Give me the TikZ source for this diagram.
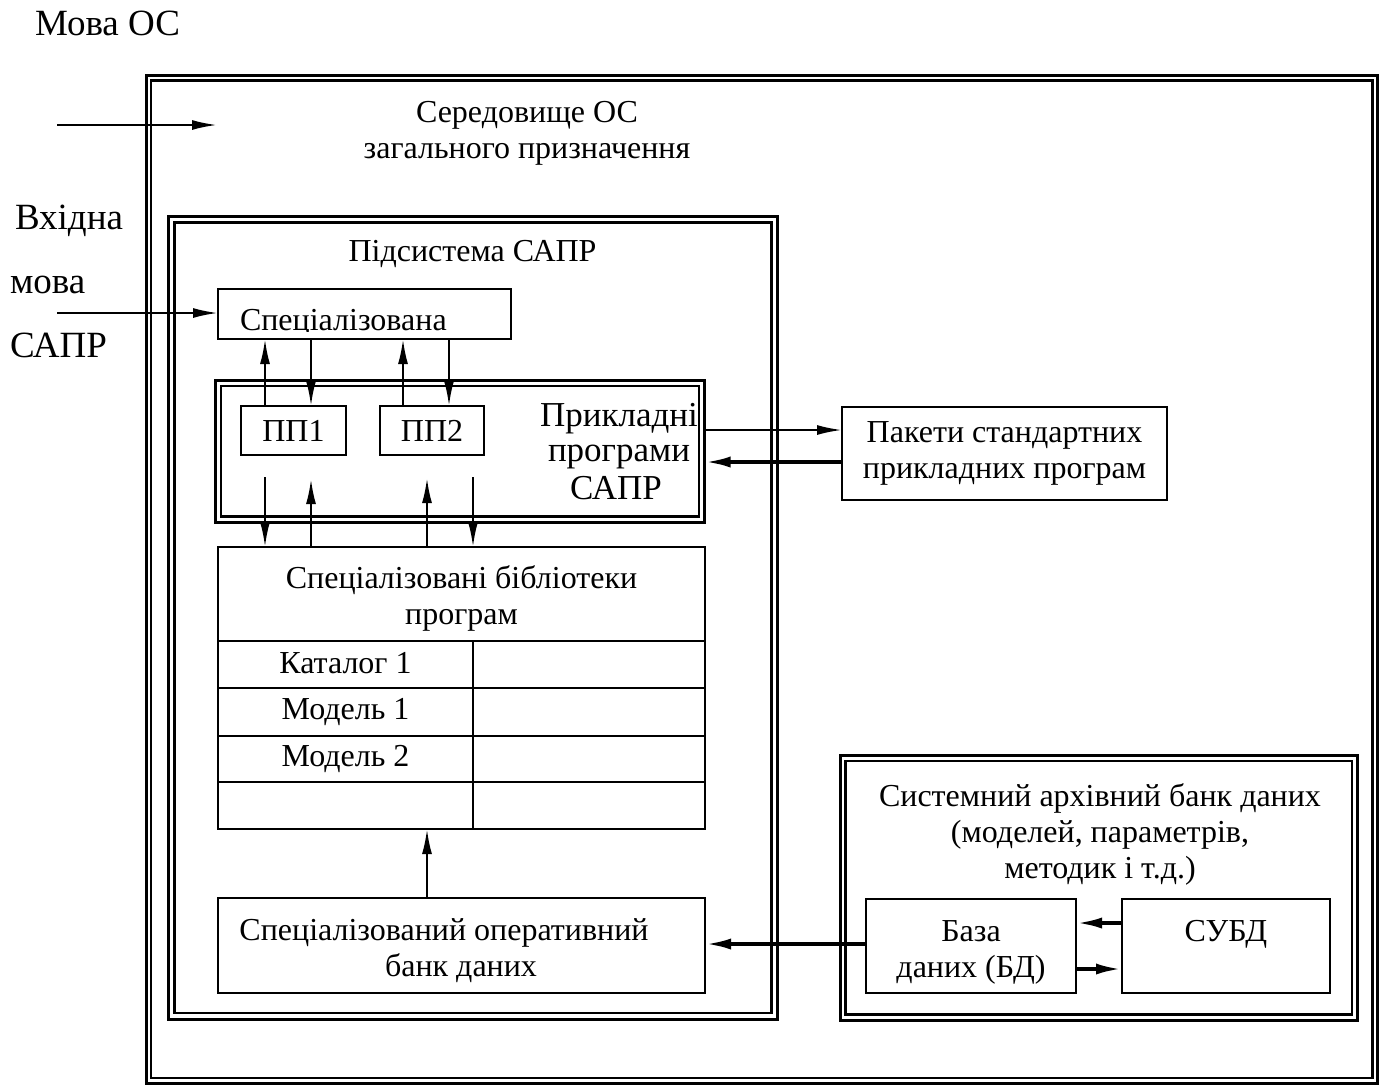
\documentclass[tikz,border=0pt]{standalone}
\usepackage{fontspec}
\setmainfont{Liberation Serif}
\usetikzlibrary{arrows.meta}
\newcommand\fsz{\fontsize{32}{36}\selectfont}
\newcommand\fbig{\fontsize{37}{42}\selectfont}
\newcommand\fmid{\fontsize{35}{40}\selectfont}
\begin{document}
\begin{tikzpicture}[x=1pt,y=-1pt,
  every node/.style={font=\fsz, inner sep=0pt, outer sep=0pt},
  txt/.style={anchor=base},
  bigtxt/.style={anchor=base, font=\fbig},
  midtxt/.style={anchor=base, font=\fmid},
  box/.style={draw, line width=2pt, rectangle},
  dblout/.style={draw, line width=3pt, rectangle},
  dblin/.style={draw, line width=2.3pt, rectangle},
  arr/.style={line width=2.2pt, -{Latex[length=25pt,width=10pt]}},
  arrthick/.style={line width=3.8pt, -{Latex[length=26pt,width=11pt]}},
  rule/.style={line width=2pt},
]
\fill[white] (0,0) rectangle (1383,1088);
\useasboundingbox (0,0) rectangle (1383,1088);

% double framed boxes
\node[dblout, minimum width=1231.5pt, minimum height=1007.5pt] (envO) at (761.75,579.25) {};
\node[dblin, minimum width=1221.5pt, minimum height=997.5pt] (envI) at (761.75,579.25) {};
\node[dblout, minimum width=608.5pt, minimum height=802.5pt] (saprO) at (472.75,617.75) {};
\node[dblin, minimum width=597pt, minimum height=790.5pt] (saprI) at (473,617.75) {};
\node[dblout, minimum width=489.5pt, minimum height=142.5pt] (priO) at (459.75,451.25) {};
\node[dblin, minimum width=478pt, minimum height=130.5pt] (priI) at (460,451.25) {};
\node[dblout, minimum width=517.5pt, minimum height=264.5pt] (archO) at (1098.75,887.75) {};
\node[dblin, minimum width=506.5pt, minimum height=253.5pt] (archI) at (1098.75,887.75) {};

% single boxes
\node[box, minimum width=293pt, minimum height=50pt] (spec) at (364.5,314) {};
\node[box, minimum width=105pt, minimum height=49pt] (pp1) at (293.5,430.5) {ПП1};
\node[box, minimum width=104pt, minimum height=49pt] (pp2) at (432,430.5) {ПП2};
\node[box, minimum width=325pt, minimum height=93pt, align=center] (pak) at (1004.5,453.5) {Пакети стандартних\\прикладних програм};
\node[box, minimum width=487pt, minimum height=282pt] (lib) at (461.5,688) {};
\node[box, minimum width=487pt, minimum height=95pt] (oper) at (461.5,945.5) {};
\node[box, minimum width=210pt, minimum height=94pt] (baza) at (971,946) {};
\node[box, minimum width=208pt, minimum height=94pt] (subd) at (1226,946) {};

% library table rules
\coordinate (r0) at (473,641);
\coordinate (r1) at (0,688);
\coordinate (r2) at (0,736);
\coordinate (r3) at (0,782);
\draw[rule] (lib.west |- r0) -- (lib.east |- r0);
\draw[rule] (lib.west |- r1) -- (lib.east |- r1);
\draw[rule] (lib.west |- r2) -- (lib.east |- r2);
\draw[rule] (lib.west |- r3) -- (lib.east |- r3);
\draw[rule] (r0) -- (lib.south -| r0);

% texts
\node[bigtxt, anchor=base west] (tMova) at (35,35) {Мова ОС};
\node[bigtxt, anchor=base west] (tVh1) at (15,229) {Вхідна};
\node[bigtxt, anchor=base west] (tVh2) at (10,293) {мова};
\node[bigtxt, anchor=base west] (tVh3) at (10,357) {САПР};
\node[txt] (tEnv1) at (527,122) {Середовище ОС};
\node[txt] (tEnv2) at (527,158) {загального призначення};
\node[txt] (tSapr) at (472.5,261) {Підсистема САПР};
\begin{scope}
  \clip (spec.north west) rectangle (511,331);
  \node[txt, anchor=base west] (tSpec) at (240,330) {Спеціалізована};
\end{scope}
\node[midtxt] (tPr1) at (619,426) {Прикладні};
\node[midtxt] (tPr2) at (619,461) {програми};
\node[midtxt] (tPr3) at (616,499) {САПР};
\node[txt] (tLib1) at (461.5,588) {Спеціалізовані бібліотеки};
\node[txt] (tLib2) at (461.5,624) {програм};
\node[txt] (tCat) at (345.5,673) {Каталог 1};
\node[txt] (tMod1) at (345.5,719) {Модель 1};
\node[txt] (tMod2) at (345.5,766) {Модель 2};
\node[txt] (tOp1) at (444,940) {Спеціалізований оперативний};
\node[txt] (tOp2) at (461,976) {банк даних};
\node[txt] (tAr1) at (1100,806) {Системний архівний банк даних};
\node[txt] (tAr2) at (1100,842) {(моделей, параметрів,};
\node[txt] (tAr3) at (1100,878) {методик і т.д.)};
\node[txt] (tBz1) at (971,941) {База};
\node[txt] (tBz2) at (971,977) {даних (БД)};
\node[txt] (tSubd) at (1226,941) {СУБД};

% reference coordinates
\coordinate (osIn1) at (57,125);
\coordinate (osIn2) at (217,125);
\coordinate (capIn) at (57,313);
\coordinate (xa) at (265,0);
\coordinate (xb) at (311,0);
\coordinate (xc) at (403,0);
\coordinate (xd) at (449,0);
\coordinate (xe) at (427,0);
\coordinate (pa) at (265,477);
\coordinate (pb) at (311,479);
\coordinate (pc) at (427,478);
\coordinate (pd) at (473,477);
\coordinate (ya) at (0,430);
\coordinate (yb) at (0,462);
\coordinate (yc) at (0,944);
\coordinate (yd) at (0,923);
\coordinate (ye) at (0,969);

% connectors
\draw[arr] (osIn1) -- (osIn2);
\draw[arr] (capIn) -- (capIn -| spec.west);
\draw[arr] (pp1.north -| xa) -- (spec.south -| xa);
\draw[arr] (spec.south -| xb) -- (pp1.north -| xb);
\draw[arr] (pp2.north -| xc) -- (spec.south -| xc);
\draw[arr] (spec.south -| xd) -- (pp2.north -| xd);
\draw[arr] (pa) -- (lib.north -| pa);
\draw[arr] (lib.north -| pb) -- (pb);
\draw[arr] (lib.north -| pc) -- (pc);
\draw[arr] (pd) -- (lib.north -| pd);
\draw[arr] (priO.east |- ya) -- (pak.west |- ya);
\draw[arrthick] (pak.west |- yb) -- (priO.east |- yb);
\draw[arr] (oper.north -| xe) -- (lib.south -| xe);
\draw[arrthick] (baza.west |- yc) -- (oper.east |- yc);
\draw[arrthick] (subd.west |- yd) -- (baza.east |- yd);
\draw[arrthick] (baza.east |- ye) -- (subd.west |- ye);
\end{tikzpicture}
\end{document}
